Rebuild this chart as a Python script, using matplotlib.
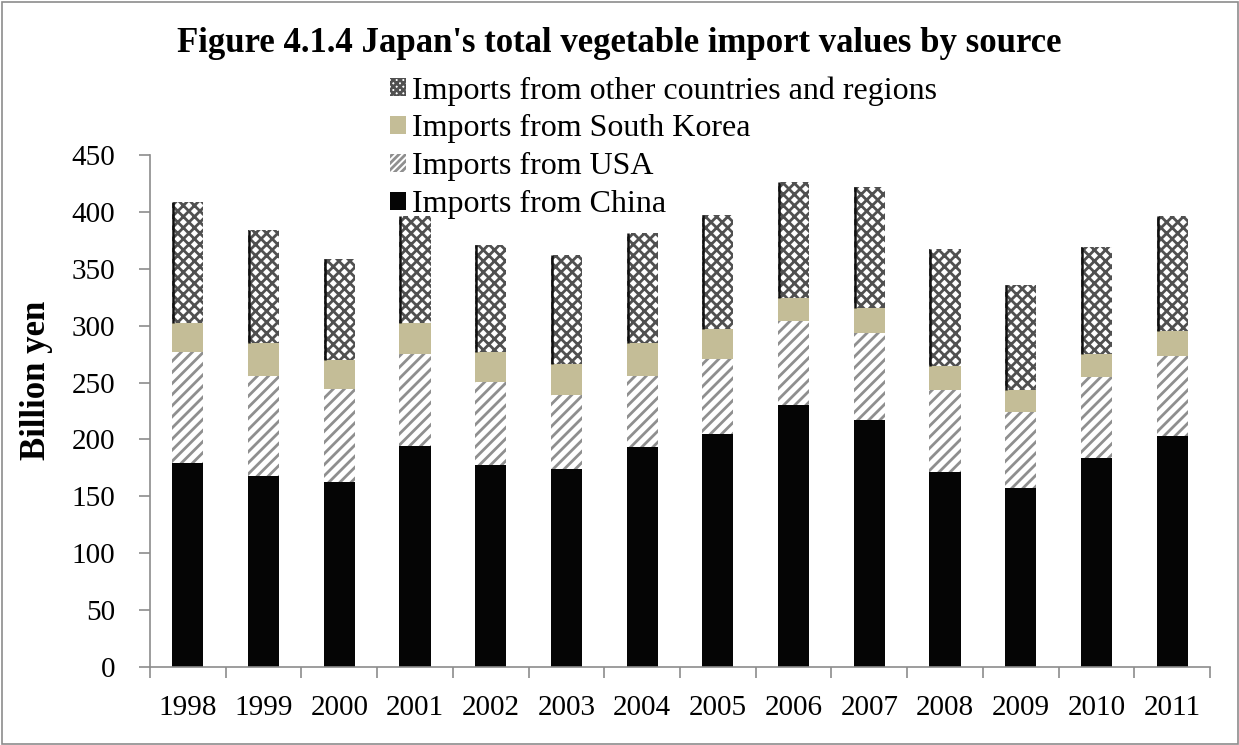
import matplotlib
matplotlib.use("Agg")
import matplotlib.pyplot as plt
from matplotlib.patches import Rectangle, Patch
import numpy as np

years = ["1998", "1999", "2000", "2001", "2002", "2003", "2004",
         "2005", "2006", "2007", "2008", "2009", "2010", "2011"]
china = [179, 168, 162.5, 194, 177.5, 174, 193.5, 205, 230, 217, 171.5, 157, 183.5, 203]
usa = [98, 88, 81.5, 81, 73, 65, 62.5, 66, 74, 76.5, 72, 67, 71.5, 70]
south_korea = [25, 28.5, 26, 27, 26, 27, 28.5, 26, 20, 22, 21, 19.5, 20, 22]
other = [106.5, 99.5, 89, 94.5, 94.5, 96, 97, 100, 102, 106, 103, 92, 94, 101.5]

series_labels = ["Imports from China", "Imports from USA",
                 "Imports from South Korea", "Imports from other countries and regions"]
y_ticks = [0, 50, 100, 150, 200, 250, 300, 350, 400, 450]

plt.rcParams["font.family"] = ["Liberation Serif", "DejaVu Serif"]
plt.rcParams["hatch.linewidth"] = 2.0

fig = plt.figure(figsize=(12.39, 7.45), dpi=100)
ax = fig.add_axes([150 / 1239, 1 - 667 / 745, 1060 / 1239, 512 / 745])

x = np.arange(len(years))
w = 0.41
b1 = np.array(china)
b2 = b1 + np.array(usa)
b3 = b2 + np.array(south_korea)
top = b3 + np.array(other)

ax.bar(x, china, w, color="#050505", linewidth=0, label=series_labels[0])
ax.bar(x, usa, w, bottom=b1, facecolor="white", edgecolor="#8f8f8f",
       hatch="///", linewidth=0, label=series_labels[1])
ax.bar(x, south_korea, w, bottom=b2, color="#c4bd97", linewidth=0,
       label=series_labels[2])
ax.bar(x, other, w, bottom=b3, facecolor="white", edgecolor="#505050",
       hatch="xxx", linewidth=0, label=series_labels[3])
# dark left edge on the top segment
ax.vlines(x - w / 2 + 0.012, b3, top, color="#111111", linewidth=1.8)

ax.set_xlim(-0.5, len(years) - 0.5)
ax.set_ylim(0, 450)
ax.set_yticks(y_ticks)
ax.set_xticks(x)
ax.set_xticklabels(years)
ax.set_xticks(np.arange(len(years) + 1) - 0.5, minor=True)

for side in ("top", "right"):
    ax.spines[side].set_visible(False)
for side in ("left", "bottom"):
    ax.spines[side].set_color("#8c8c8c")
    ax.spines[side].set_linewidth(1.2)

ax.tick_params(axis="y", direction="out", length=8, width=1.2, color="#8c8c8c",
               labelsize=21, pad=17)
ax.tick_params(axis="x", which="major", length=0, labelsize=21, pad=20)
ax.tick_params(axis="x", which="minor", direction="out", length=8, width=1.2,
               color="#8c8c8c")

ax.set_ylabel("Billion yen", fontsize=25, fontweight="bold")
ax.yaxis.set_label_coords((53 - 150) / 1060, (667 - 380) / 512)

fig.text(0.5, 1 - 44 / 745, "Figure 4.1.4 Japan's total vegetable import values by source",
         ha="center", va="center", fontsize=25, fontweight="bold")

handles = [
    Patch(facecolor="white", edgecolor="#505050", hatch="xxxxx", linewidth=0),
    Patch(facecolor="#c4bd97", linewidth=0),
    Patch(facecolor="white", edgecolor="#8f8f8f", hatch="/////", linewidth=0),
    Patch(facecolor="#050505", linewidth=0),
]
ax.legend(handles, series_labels[::-1], loc="upper left", frameon=False,
          bbox_to_anchor=(390 / 1239, 1 - 76 / 745), bbox_transform=fig.transFigure,
          fontsize=23, handlelength=0.5, handleheight=0.5, handletextpad=0.2,
          labelspacing=0.28, borderpad=0, borderaxespad=0)

fig.add_artist(Rectangle((1.5 / 1239, 1.5 / 745), 1236 / 1239, 742 / 745,
                         transform=fig.transFigure, fill=False,
                         edgecolor="#8c8c8c", linewidth=1.2))

fig.savefig("out.png", dpi=100)
